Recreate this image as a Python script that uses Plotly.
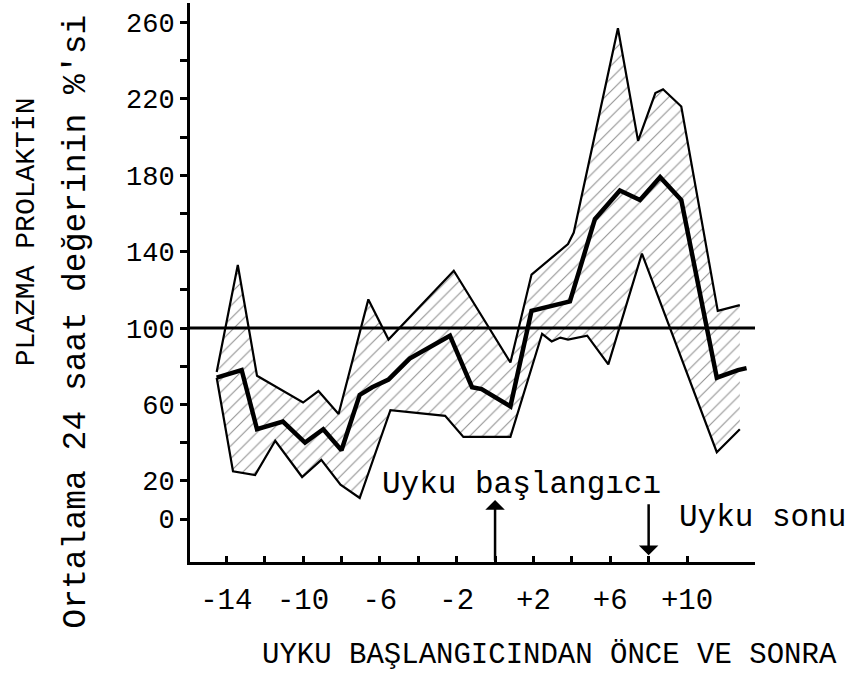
import plotly.graph_objects as go

# Hours relative to sleep onset, and % of 24-h mean plasma prolactin
upper_x = [-14.5, -13.4, -12.4, -10.0, -9.2, -8.15, -6.6, -5.55, -2.15, 0.8, 1.9, 3.8, 4.1, 6.4, 7.45, 8.35, 8.75, 9.7, 11.6, 12.75]
upper_y = [77, 133, 75, 61, 67, 55, 115, 94, 130, 82, 128, 144, 150, 257, 198, 223, 225, 216, 109, 112]

mean_x = [-14.5, -13.2, -12.4, -11.05, -9.9, -8.95, -8.0, -7.05, -6.4, -5.55, -4.45, -2.35, -1.2, -0.7, 0.8, 1.9, 3.9, 5.2, 6.5, 7.55, 8.6, 9.7, 11.55, 12.65, 13.1]
mean_y = [74, 78, 47, 51, 40, 47, 36, 65, 69, 73, 84, 96, 69, 68, 59, 109, 114, 157, 172, 167, 179, 167, 74, 78, 79]

lower_x = [-14.5, -13.65, -12.5, -11.45, -10.05, -9.05, -8.05, -7.05, -5.45, -2.6, -1.65, 0.8, 2.45, 2.95, 3.4, 3.8, 4.8, 5.9, 7.65, 11.55, 12.75]
lower_y = [74, 25, 23, 41, 22, 31, 18, 11, 57, 54, 43, 43, 97, 93, 95, 94, 96, 81, 139, 35, 47]

reference_level = 100
sleep_onset = 0
sleep_end = 8

x_tickvals = list(range(-14, 11, 2))
x_ticktext = ["-14", "", "-10", "", "-6", "", "-2", "", "+2", "", "+6", "", "+10"]
y_tickvals = list(range(0, 261, 20))
y_ticktext = ["0", "20", "", "60", "", "100", "", "140", "", "180", "", "220", "", "260"]

FONT = "Liberation Mono"
fig = go.Figure()

# hatched band between upper and lower limits
fig.add_trace(go.Scatter(
    x=upper_x + lower_x[::-1], y=upper_y + lower_y[::-1],
    fill="toself", mode="lines", line=dict(width=0),
    fillcolor="rgba(0,0,0,0)",
    fillpattern=dict(shape="/", size=9, solidity=0.12, fgcolor="#222", bgcolor="white"),
    hoverinfo="skip", showlegend=False))

fig.add_trace(go.Scatter(x=upper_x, y=upper_y, mode="lines",
                         line=dict(color="black", width=2.2), showlegend=False))
fig.add_trace(go.Scatter(x=lower_x, y=lower_y, mode="lines",
                         line=dict(color="black", width=2.2), showlegend=False))
fig.add_trace(go.Scatter(x=mean_x, y=mean_y, mode="lines",
                         line=dict(color="black", width=4.5), showlegend=False))

fig.add_shape(type="line", xref="paper", x0=0, x1=1, yref="y",
              y0=reference_level, y1=reference_level, line=dict(color="black", width=3))

# arrows for sleep onset / end
fig.add_annotation(x=sleep_onset, y=10, ax=sleep_onset, ay=-22.5, xref="x", yref="y",
                   axref="x", ayref="y", showarrow=True, arrowhead=1, arrowsize=1.3,
                   arrowwidth=2.5, arrowcolor="black", text="")
fig.add_annotation(x=sleep_end, y=-19, ax=sleep_end, ay=8.5, xref="x", yref="y",
                   axref="x", ayref="y", showarrow=True, arrowhead=1, arrowsize=1.3,
                   arrowwidth=2.5, arrowcolor="black", text="")

fig.add_annotation(x=-6.0, y=18, xref="x", yref="y", text="Uyku başlangıcı",
                   showarrow=False, xanchor="left", yanchor="middle",
                   font=dict(family=FONT, size=31, color="black"))
fig.add_annotation(x=9.5, y=1, xref="x", yref="y", text="Uyku sonu",
                   showarrow=False, xanchor="left", yanchor="middle",
                   font=dict(family=FONT, size=31, color="black"))

# axis titles
fig.add_annotation(xref="paper", yref="paper", x=0.637, y=-0.168,
                   text="UYKU BAŞLANGICINDAN ÖNCE VE SONRA", showarrow=False,
                   xanchor="center", yanchor="middle",
                   font=dict(family=FONT, size=29, color="black"))
fig.add_annotation(xref="paper", yref="paper", x=-0.29, y=0.59,
                   text="PLAZMA PROLAKTİN", showarrow=False, textangle=-90,
                   xanchor="center", yanchor="middle",
                   font=dict(family=FONT, size=28, color="black"))
fig.add_annotation(xref="paper", yref="paper", x=-0.2, y=0.43,
                   text="Ortalama 24 saat değerinin %'si", showarrow=False, textangle=-90,
                   xanchor="center", yanchor="middle",
                   font=dict(family=FONT, size=33, color="black"))

fig.update_layout(
    width=859, height=677, autosize=False,
    margin=dict(l=190, r=104, t=3, b=115),
    paper_bgcolor="white", plot_bgcolor="white",
    showlegend=False,
    xaxis=dict(range=[-15.89, 13.54], showline=True, linewidth=3, linecolor="black",
               ticks="inside", ticklen=6, tickwidth=2.5, tickcolor="black",
               tickvals=x_tickvals, ticktext=x_ticktext, showgrid=False, zeroline=False,
               ticklabelstandoff=9,
               tickfont=dict(family=FONT, size=29, color="black")),
    yaxis=dict(range=[-22.5, 270.2], showline=True, linewidth=3, linecolor="black",
               ticks="outside", ticklen=7, tickwidth=2.5, tickcolor="black",
               tickvals=y_tickvals, ticktext=y_ticktext, showgrid=False, zeroline=False,
               tickfont=dict(family=FONT, size=27, color="black")),
)

fig.write_html("out.html")
